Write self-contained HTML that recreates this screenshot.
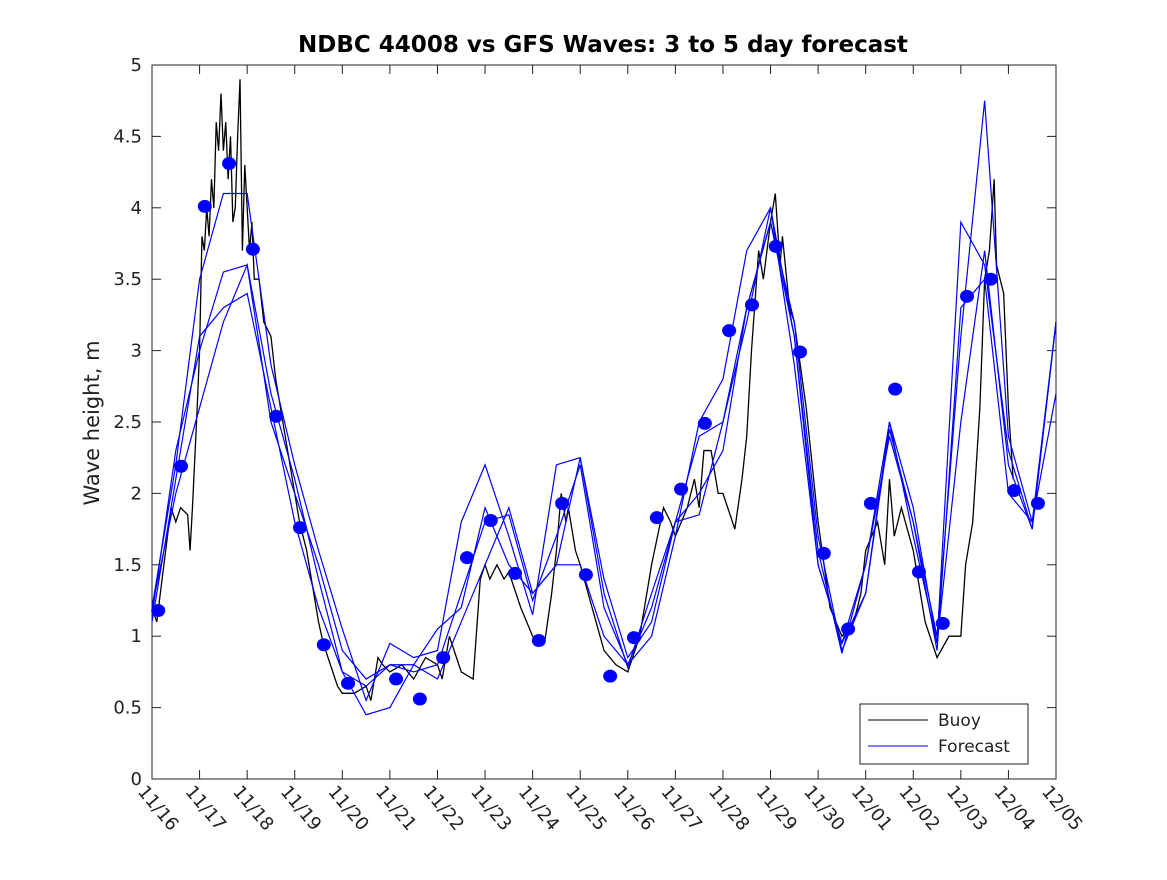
<!DOCTYPE html>
<html><head><meta charset="utf-8"><style>
body{margin:0;background:#fff;}
svg text{font-family:"DejaVu Sans","Liberation Sans",sans-serif;}
</style></head><body>
<svg id="chart" width="1167" height="875" xmlns="http://www.w3.org/2000/svg">
<rect width="1167" height="875" fill="#fff"/>
<text x="603" y="52" text-anchor="middle" font-size="23" font-weight="bold" fill="#000">NDBC 44008 vs GFS Waves: 3 to 5 day forecast</text>
<text transform="translate(99,423) rotate(-90)" text-anchor="middle" font-size="21" fill="#222">Wave height, m</text>
<g id="axes"></g>
<g id="plot"></g>
<g id="legend">
<rect x="860" y="704" width="168" height="60" fill="#fff" stroke="#222" stroke-width="1"/>
<line x1="868" y1="720" x2="928" y2="720" stroke="#000"/>
<text x="938" y="726" font-size="17" fill="#222">Buoy</text>
<line x1="868" y1="746" x2="928" y2="746" stroke="#0000ff"/>
<text x="938" y="752" font-size="17" fill="#222">Forecast</text>
</g>
</svg>
<script>
const xTickLabels=["11/16","11/17","11/18","11/19","11/20","11/21","11/22","11/23","11/24","11/25","11/26","11/27","11/28","11/29","11/30","12/01","12/02","12/03","12/04","12/05"];
const yTicks=[0,0.5,1,1.5,2,2.5,3,3.5,4,4.5,5];
const yTickLabels=["0","0.5","1","1.5","2","2.5","3","3.5","4","4.5","5"];
const buoyDays=[
0,0.1,0.25,0.4,0.5,0.6,0.75,0.8,0.85,0.95,
1.0,1.05,1.1,1.15,1.2,1.25,1.3,1.35,1.4,1.45,
1.5,1.55,1.6,1.65,1.7,1.75,1.8,1.85,1.9,1.95,
2.0,2.05,2.1,2.15,2.25,2.35,2.5,2.6,2.75,2.85,
3.0,3.1,3.25,3.4,3.5,3.6,3.75,3.9,4.0,4.25,
4.5,4.6,4.75,4.85,5.0,5.25,5.5,5.75,6.0,6.1,
6.25,6.4,6.5,6.75,6.9,7.0,7.1,7.25,7.4,7.5,
7.75,8.0,8.25,8.4,8.5,8.6,8.7,8.75,8.9,9.0,
9.25,9.5,9.75,10.0,10.25,10.5,10.75,10.9,11.0,11.25,
11.4,11.5,11.6,11.75,11.9,12.0,12.25,12.4,12.5,12.6,
12.75,12.85,13.0,13.1,13.2,13.25,13.4,13.5,13.75,14.0,
14.25,14.5,14.75,14.9,15.0,15.25,15.4,15.5,15.6,15.75,
16.0,16.25,16.5,16.75,17.0,17.1,17.25,17.4,17.5,17.6,
17.7,17.75,17.9,18.0,18.1];
const buoyValues=[
1.2,1.1,1.5,1.9,1.8,1.9,1.85,1.6,1.9,2.6,
3.0,3.8,3.7,4.0,3.8,4.2,4.0,4.6,4.4,4.8,
4.4,4.6,4.2,4.5,3.9,4.0,4.5,4.9,3.7,4.3,
4.0,3.7,3.9,3.5,3.5,3.2,3.1,2.8,2.5,2.3,
2.0,1.8,1.6,1.3,1.1,0.95,0.8,0.65,0.6,0.6,
0.65,0.55,0.85,0.8,0.75,0.8,0.7,0.85,0.8,0.7,
1.0,0.85,0.75,0.7,1.4,1.5,1.4,1.5,1.4,1.45,
1.2,1.0,0.95,1.3,1.6,2.0,1.8,1.9,1.6,1.5,
1.2,0.9,0.8,0.75,1.0,1.5,1.9,1.8,1.7,1.9,
2.1,1.9,2.3,2.3,2.0,2.0,1.75,2.1,2.4,3.0,
3.7,3.5,3.9,4.1,3.6,3.8,3.3,3.2,2.6,1.8,
1.2,1.0,1.1,1.3,1.6,1.8,1.5,2.1,1.7,1.9,
1.6,1.1,0.85,1.0,1.0,1.5,1.8,2.6,3.5,3.7,
4.2,3.6,3.4,2.6,2.1];
const fcDays=[0,0.5,1,1.5,2,2.5,3,3.5,4,4.5,5,5.5,6,6.5,7,7.5,8,8.5,9,9.5,10,10.5,11,11.5,12,12.5,13,13.5,14,14.5,15,15.5,16,16.5,17,17.5,18,18.5,19];
const fc1=[1.15,2.3,3.0,3.55,3.6,2.7,2.1,1.4,0.75,0.65,0.8,0.75,0.8,1.3,1.8,1.85,1.25,1.7,2.2,1.2,0.8,1.2,1.8,2.0,2.3,3.3,3.9,3.2,1.7,0.9,1.3,2.5,1.9,0.95,2.5,3.7,2.2,1.75,3.2];
const fc2=[1.2,2.0,2.6,3.2,3.6,2.5,2.0,1.5,0.9,0.7,0.8,0.8,0.7,1.1,1.5,1.9,1.3,1.5,2.25,1.4,0.85,1.1,1.8,1.85,2.5,3.2,4.0,3.1,1.6,0.88,1.5,2.4,1.8,1.0,3.1,4.75,2.4,1.8,2.7];
const fc3=[1.2,2.2,3.5,4.1,4.1,2.9,2.2,1.6,1.05,0.55,0.95,0.85,0.9,1.8,2.2,1.7,1.15,2.2,2.25,1.3,0.78,1.3,1.8,2.4,2.5,3.3,3.9,3.1,1.5,0.95,1.3,2.45,1.8,0.9,3.3,3.5,2.0,1.8,3.2];
const fc4=[1.1,2.1,3.1,3.3,3.4,2.6,1.8,1.2,0.75,0.45,0.5,0.8,1.05,1.2,1.9,1.5,1.3,1.5,1.5,1.0,0.8,1.0,1.7,2.5,2.8,3.7,4.0,2.9,1.5,0.95,1.5,2.5,1.7,0.95,3.9,3.6,2.3,1.75,3.2];
const dotDays=[0.13,0.61,1.11,1.62,2.12,2.61,3.11,3.61,4.12,5.13,5.63,6.12,6.62,7.12,7.63,8.13,8.62,9.12,9.63,10.13,10.61,11.12,11.62,12.13,12.61,13.11,13.62,14.12,14.63,15.11,15.62,16.12,16.62,17.13,17.63,18.12,18.62];
const dotValues=[1.18,2.19,4.01,4.31,3.71,2.54,1.76,0.94,0.67,0.70,0.56,0.85,1.55,1.81,1.44,0.97,1.93,1.43,0.72,0.99,1.83,2.03,2.49,3.14,3.32,3.73,2.99,1.58,1.05,1.93,2.73,1.45,1.09,3.38,3.50,2.02,1.93];

const X0=152,X1=1056,Y0=779,Y1=65,DAYS=19,YMAX=5;
const xs=d=>X0+(X1-X0)*d/DAYS;
const ys=v=>Y0-(Y0-Y1)*v/YMAX;
const NS="http://www.w3.org/2000/svg";
const axes=document.getElementById('axes'),plot=document.getElementById('plot');
function mk(t,a,p){const e=document.createElementNS(NS,t);for(const k in a)e.setAttribute(k,a[k]);p.appendChild(e);return e;}

xTickLabels.forEach((l,i)=>{const x=xs(i);
 const t1=mk('line',{x1:x,y1:Y0,x2:x,y2:Y0-9,stroke:'#222'},axes);
 
 
 const t2=mk('line',{x1:x,y1:Y1,x2:x,y2:Y1+9,stroke:'#222'},axes);
 
 
 const tx=mk('text',{transform:`translate(${x-15},${Y0+13}) rotate(50)`,'font-size':18,fill:'#222'},axes);
 tx.textContent=l;
 
 
});
yTicks.forEach((v,i)=>{const y=ys(v);
 const t1=mk('line',{x1:X0,y1:y,x2:X0+9,y2:y,stroke:'#222'},axes);
 
 
 const t2=mk('line',{x1:X1,y1:y,x2:X1-9,y2:y,stroke:'#222'},axes);
 
 
 const tx=mk('text',{x:X0-10,y:y+6,'text-anchor':'end','font-size':18,fill:'#222'},axes);
 tx.textContent=yTickLabels[i];
 
 
});
const fr=mk('rect',{x:X0,y:Y1,width:X1-X0,height:Y0-Y1,fill:'none',stroke:'#222'},axes);



const n=Math.min(buoyDays.length,buoyValues.length);
const bp=mk('polyline',{points:buoyDays.slice(0,n).map((d,i)=>xs(d)+','+ys(buoyValues[i])).join(' '),fill:'none',stroke:'#000','stroke-width':1.3},plot);


[fc1,fc2,fc3,fc4].forEach((s,k)=>{
 const p=mk('polyline',{points:fcDays.map((d,i)=>xs(d)+','+ys(s[i])).join(' '),fill:'none',stroke:'#0000ff','stroke-width':1.2},plot);
 
 
});
dotDays.forEach((d,i)=>{
 const c=mk('ellipse',{cx:xs(d),cy:ys(dotValues[i]),rx:7,ry:6.5,fill:'#0000ff'},plot);
 
 
});
</script>
</body></html>
